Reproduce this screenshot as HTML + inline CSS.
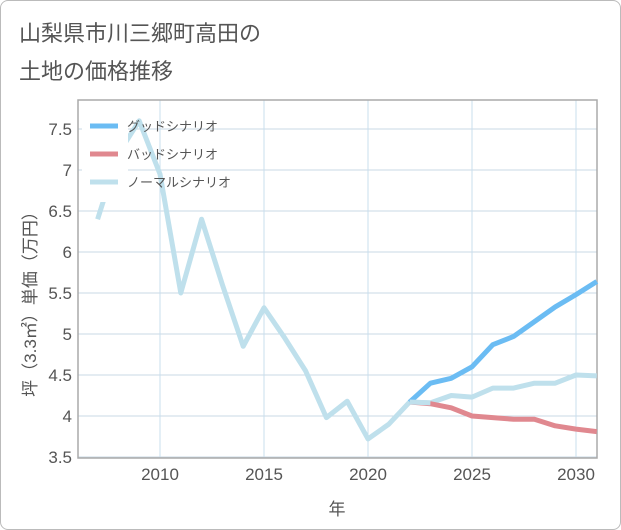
<!DOCTYPE html>
<html><head><meta charset="utf-8"><style>
body{margin:0;background:#fff;}
#wrap{position:relative;width:619px;height:528px;border:1px solid #bbb;border-radius:8px;overflow:hidden;font-family:"Liberation Sans","Noto Sans CJK JP",sans-serif;}
#title{position:absolute;left:18px;top:14px;font-size:22px;line-height:38px;color:#555;}
</style></head><body>
<div id="wrap">
<div id="title">山梨県市川三郷町高田の<br>土地の価格推移</div>
<svg id="chart" width="621" height="530" style="position:absolute;left:-1px;top:-1px"></svg>
</div>
<script>
const years=[2007,2008,2009,2010,2011,2012,2013,2014,2015,2016,2017,2018,2019,2020,2021,2022,2023,2024,2025,2026,2027,2028,2029,2030,2031];
const normal=[6.4,7.2,7.6,6.95,5.5,6.4,5.6,4.85,5.32,4.95,4.55,3.98,4.18,3.72,3.9,4.17,4.16,4.25,4.23,4.34,4.34,4.4,4.4,4.5,4.49];
const fYears=[2022,2023,2024,2025,2026,2027,2028,2029,2030,2031];
const good=[4.17,4.4,4.46,4.6,4.87,4.97,5.15,5.33,5.48,5.64];
const bad=[4.17,4.15,4.1,4.0,3.98,3.96,3.96,3.88,3.84,3.81];
const yTicks=[3.5,4,4.5,5,5.5,6,6.5,7,7.5];
const xTicks=[2010,2015,2020,2025,2030];
const L=78,R=597,T=100,B=458;
const x=v=>160+(v-2010)*20.8;
const y=v=>457-(v-3.5)*82;
const svg=document.getElementById('chart');
const NS='http://www.w3.org/2000/svg';
function mk(t,a){const e=document.createElementNS(NS,t);for(const k in a)e.setAttribute(k,a[k]);svg.appendChild(e);return e;}
yTicks.forEach(v=>{
 const g=mk('line',{x1:L,x2:R,y1:y(v),y2:y(v),stroke:'#c8d8e6','stroke-width':1});
 
 
 const t=mk('text',{x:L-6,y:y(v)+6,'text-anchor':'end','font-size':17,fill:'#555','font-family':'Liberation Sans,sans-serif'});
 t.textContent=v;
 
 
});
xTicks.forEach(v=>{
 const g=mk('line',{x1:x(v),x2:x(v),y1:T,y2:B,stroke:'#c8dfee','stroke-width':1});
 
 
 const t=mk('text',{x:x(v),y:B+22,'text-anchor':'middle','font-size':17,fill:'#555','font-family':'Liberation Sans,sans-serif'});
 t.textContent=v;
 
 
});
const fr=mk('rect',{x:L,y:T,width:R-L,height:B-T,fill:'none',stroke:'#aaa','stroke-width':1.5});


function line(xs,vs,color,name){
 const p=mk('polyline',{points:xs.map((yr,i)=>x(yr)+','+y(vs[i])).join(' '),fill:'none',stroke:color,'stroke-width':5,'stroke-linejoin':'round'});
 
 
}
line(years,normal,'#bfe0ec','normal-scenario-line');
line(fYears,bad,'#e0888f','bad-scenario-line');
line(fYears,good,'#6bbcf3','good-scenario-line');
line(fYears.slice(0,2),normal.slice(15,17),'#bfe0ec','normal-scenario-overlap');
const lb=mk('rect',{x:82,y:110,width:46,height:92,fill:'#fff'});


[['グッドシナリオ','#6bbcf3'],['バッドシナリオ','#e0888f'],['ノーマルシナリオ','#bfe0ec']].forEach((d,i)=>{
 const yy=126+i*28;
 const s=mk('line',{x1:90,x2:118,y1:yy,y2:yy,stroke:d[1],'stroke-width':5});
 
 
 const t=mk('text',{x:127,y:yy+5,'font-size':13,fill:'#555','font-family':'Liberation Sans,Noto Sans CJK JP,sans-serif'});
 t.textContent=d[0];
 
 
});
const xt=mk('text',{x:337,y:515,'text-anchor':'middle','font-size':17,fill:'#555','font-family':'Liberation Sans,Noto Sans CJK JP,sans-serif'});
xt.textContent='年';


const yt=mk('text',{x:0,y:0,'text-anchor':'middle','font-size':17,fill:'#555','font-family':'Liberation Sans,Noto Sans CJK JP,sans-serif',transform:'translate(36,300) rotate(-90)'});
yt.textContent='坪（3.3㎡）単価（万円）';


</script>
</body></html>
